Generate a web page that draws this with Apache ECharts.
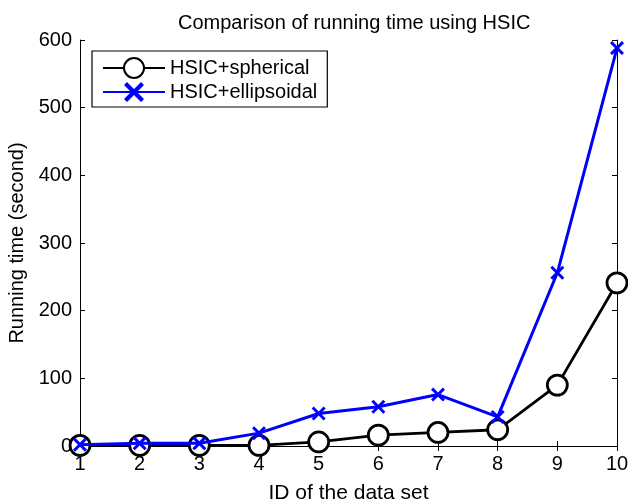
<!DOCTYPE html>
<html>
<head>
<meta charset="utf-8">
<script src="https://cdn.jsdelivr.net/npm/echarts@6/dist/echarts.min.js"></script>
<style>html,body{margin:0;padding:0;background:#fff;}#c{width:628px;height:501px;}</style>
</head>
<body>
<div id="c"></div>
<script>
const ids = [1, 2, 3, 4, 5, 6, 7, 8, 9, 10];
const spherical = [1, 1, 1, 1, 6, 16, 20, 24, 90, 241];
const ellipsoidal = [2, 4, 4, 19, 48, 58, 76, 43, 256, 588];
const yTicks = [0, 100, 200, 300, 400, 500, 600];

const FONT = 'Liberation Sans, Arial, sans-serif';
const crossPath = 'path://M0,1.5L1.5,0L5,3.5L8.5,0L10,1.5L6.5,5L10,8.5L8.5,10L5,6.5L1.5,10L0,8.5L3.5,5Z';

const chart = echarts.init(document.getElementById('c'));
const axisCommon = {
  axisLine: { show: true, lineStyle: { color: '#000', width: 1 } },
  axisTick: { show: true, inside: true, length: 5, lineStyle: { color: '#000' } },
  splitLine: { show: false }
};
chart.setOption({
  animation: false,
  backgroundColor: '#fff',
  title: {
    text: 'Comparison of running time using HSIC',
    left: 173, top: 8,
    textStyle: { fontFamily: FONT, fontSize: 20, fontWeight: 'normal', color: '#000' }
  },
  grid: { left: 80, right: 11, top: 40, bottom: 55, containLabel: false, outerBoundsMode: 'none' },
  legend: {
    orient: 'vertical', left: 92, top: 51,
    borderColor: '#000', borderWidth: 1.2,
    padding: [6, 10, 5, 10], itemGap: 3,
    itemWidth: 62, itemHeight: 25,
    backgroundColor: '#fff',
    textStyle: { fontFamily: FONT, fontSize: 20, color: '#000' },
    data: ['HSIC+spherical', 'HSIC+ellipsoidal']
  },
  xAxis: [
    Object.assign({}, axisCommon, {
      type: 'value', min: 1, max: 10, interval: 1,
      name: 'ID of the data set', nameLocation: 'middle', nameGap: 37,
      nameTextStyle: { fontFamily: FONT, fontSize: 21, color: '#000' },
      axisLabel: { fontFamily: FONT, fontSize: 20, color: '#000', margin: 8 }
    }),
    Object.assign({}, axisCommon, {
      type: 'value', min: 1, max: 10, interval: 1, position: 'top',
      axisLabel: { show: false }
    })
  ],
  yAxis: [
    Object.assign({}, axisCommon, {
      type: 'value', min: yTicks[0], max: yTicks[yTicks.length - 1], interval: 100,
      name: 'Running time (second)', nameLocation: 'middle', nameGap: 47,
      nameTextStyle: { fontFamily: FONT, fontSize: 20, color: '#000' },
      axisLabel: { fontFamily: FONT, fontSize: 20, color: '#000', margin: 8 }
    }),
    Object.assign({}, axisCommon, {
      type: 'value', min: yTicks[0], max: yTicks[yTicks.length - 1], interval: 100, position: 'right',
      axisLabel: { show: false }
    })
  ],
  series: [
    {
      name: 'HSIC+spherical', type: 'line',
      data: ids.map((x, i) => [x, spherical[i]]),
      symbol: 'circle', symbolSize: 20,
      lineStyle: { color: '#000', width: 2.8 },
      itemStyle: { color: '#fff', borderColor: '#000', borderWidth: 2.8 },
      z: 2
    },
    {
      name: 'HSIC+ellipsoidal', type: 'line',
      data: ids.map((x, i) => [x, ellipsoidal[i]]),
      symbol: crossPath, symbolSize: 14,
      lineStyle: { color: '#0000ff', width: 3 },
      itemStyle: { color: '#0000ff', borderWidth: 0 },
      z: 3
    }
  ]
});
</script>
</body>
</html>
